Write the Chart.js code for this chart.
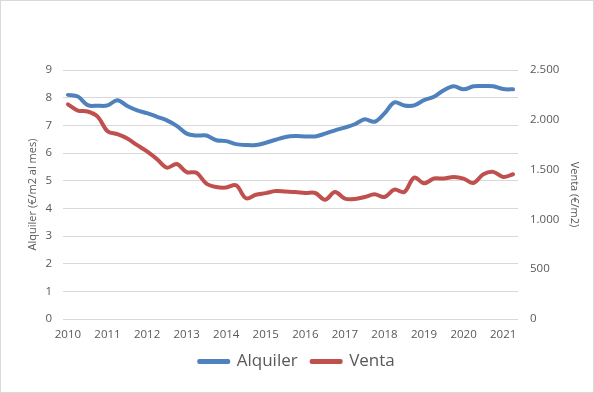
<!DOCTYPE html>
<html>
<head>
<meta charset="utf-8">
<script src="https://cdn.jsdelivr.net/npm/chart.js@4/dist/chart.umd.min.js"></script>
<style>
  html, body { margin: 0; padding: 0; background: #ffffff; }
  #wrap { width: 594px; height: 393px; }
</style>
</head>
<body>
<div id="wrap"><canvas id="c" width="594" height="393"></canvas></div>
<script>
// Quarterly data 2010 Q1 – 2021 Q2
const years = ["2010","2011","2012","2013","2014","2015","2016","2017","2018","2019","2020","2021"];
const quarterLabels = [];
years.forEach(y => { for (let q = 0; q < 4; q++) quarterLabels.push(q === 0 ? y : ""); });
const categories = quarterLabels.slice(0, 46);

// Alquiler (€/m2 al mes) – left axis
const alquiler = [
  8.10, 8.04, 7.73, 7.71, 7.72, 7.91, 7.70, 7.54, 7.44, 7.31,
  7.18, 6.98, 6.70, 6.63, 6.63, 6.46, 6.43, 6.32, 6.29, 6.29,
  6.37, 6.48, 6.58, 6.61, 6.60, 6.60, 6.70, 6.82, 6.92, 7.04,
  7.22, 7.13, 7.43, 7.83, 7.72, 7.72, 7.91, 8.03, 8.27, 8.41,
  8.30, 8.41, 8.42, 8.41, 8.31, 8.30
];

// Venta (€/m2) – right axis
const venta = [
  2155, 2093, 2083, 2032, 1885, 1855, 1812, 1745, 1682, 1605,
  1520, 1556, 1475, 1468, 1360, 1325, 1320, 1342, 1212, 1247,
  1264, 1285, 1280, 1275, 1265, 1265, 1198, 1275, 1209, 1205,
  1225, 1252, 1225, 1299, 1275, 1420, 1362, 1410, 1410, 1426,
  1410, 1366, 1453, 1477, 1426, 1453
];

const leftTicks = { min: 0, max: 9, step: 1 };
const rightTicks = { min: 0, max: 2500, step: 500 };

const FONT = "'Open Sans', 'DejaVu Sans', sans-serif";
const GRAY = "#595959";
const GRID = "#d9d9d9";

const borderPlugin = {
  id: 'chartBorder',
  beforeDraw(chart) {
    const ctx = chart.ctx;
    ctx.save();
    ctx.fillStyle = '#ffffff';
    ctx.fillRect(0, 0, chart.width, chart.height);
    ctx.restore();
  },
  afterDraw(chart) {
    const ctx = chart.ctx;
    ctx.save();
    ctx.strokeStyle = GRID;
    ctx.lineWidth = 1;
    ctx.strokeRect(0.5, 0.5, chart.width - 1, chart.height - 1);
    ctx.restore();
  }
};

function fmtThousands(v) {
  return String(v).replace(/\B(?=(\d{3})+(?!\d))/g, ".");
}

new Chart(document.getElementById('c'), {
  type: 'line',
  data: {
    labels: categories,
    datasets: [
      {
        label: 'Alquiler',
        data: alquiler,
        yAxisID: 'yL',
        borderColor: '#4F81BD',
        backgroundColor: '#4F81BD',
        borderWidth: 4,
        pointRadius: 0,
        tension: 0.35,
        borderCapStyle: 'round',
        borderJoinStyle: 'round'
      },
      {
        label: 'Venta',
        data: venta,
        yAxisID: 'yR',
        borderColor: '#C0504D',
        backgroundColor: '#C0504D',
        borderWidth: 4,
        pointRadius: 0,
        tension: 0.35,
        borderCapStyle: 'round',
        borderJoinStyle: 'round'
      }
    ]
  },
  options: {
    responsive: false,
    animation: false,
    devicePixelRatio: 1,
    layout: { padding: { top: 70, bottom: 13, left: 0, right: 0 } },
    plugins: {
      legend: {
        position: 'bottom',
        labels: {
          font: { family: FONT, size: 17 },
          color: GRAY,
          boxWidth: 29,
          boxHeight: 1,
          padding: 14
        }
      },
      tooltip: { enabled: false }
    },
    scales: {
      x: {
        type: 'category',
        offset: true,
        grid: { display: false, drawTicks: false },
        border: { display: false },
        ticks: {
          autoSkip: false,
          maxRotation: 0,
          minRotation: 0,
          padding: 9,
          color: GRAY,
          font: { family: FONT, size: 11.5 }
        },
        afterFit(scale) { scale.height = 20; }
      },
      yL: {
        type: 'linear',
        position: 'left',
        min: leftTicks.min,
        max: leftTicks.max,
        ticks: {
          stepSize: leftTicks.step,
          padding: 11,
          color: GRAY,
          font: { family: FONT, size: 11.5 }
        },
        grid: { color: GRID, lineWidth: 1, drawTicks: false },
        border: { display: false },
        title: {
          display: true,
          text: 'Alquiler (€/m2 al mes)',
          color: GRAY,
          font: { family: FONT, size: 11 },
          padding: { top: 26, bottom: 0 }
        },
        afterFit(scale) { scale.width = 63; }
      },
      yR: {
        type: 'linear',
        position: 'right',
        min: rightTicks.min,
        max: rightTicks.max,
        ticks: {
          stepSize: rightTicks.step,
          padding: 12,
          color: GRAY,
          font: { family: FONT, size: 11.5 },
          callback: (v) => fmtThousands(v)
        },
        grid: { display: false, drawTicks: false },
        border: { display: false },
        title: {
          display: true,
          text: 'Venta (€/m2)',
          color: GRAY,
          font: { family: FONT, size: 11 },
          padding: { top: 13, bottom: 0 }
        },
        afterFit(scale) { scale.width = 76; }
      }
    }
  },
  plugins: [borderPlugin]
});
</script>
</body>
</html>
